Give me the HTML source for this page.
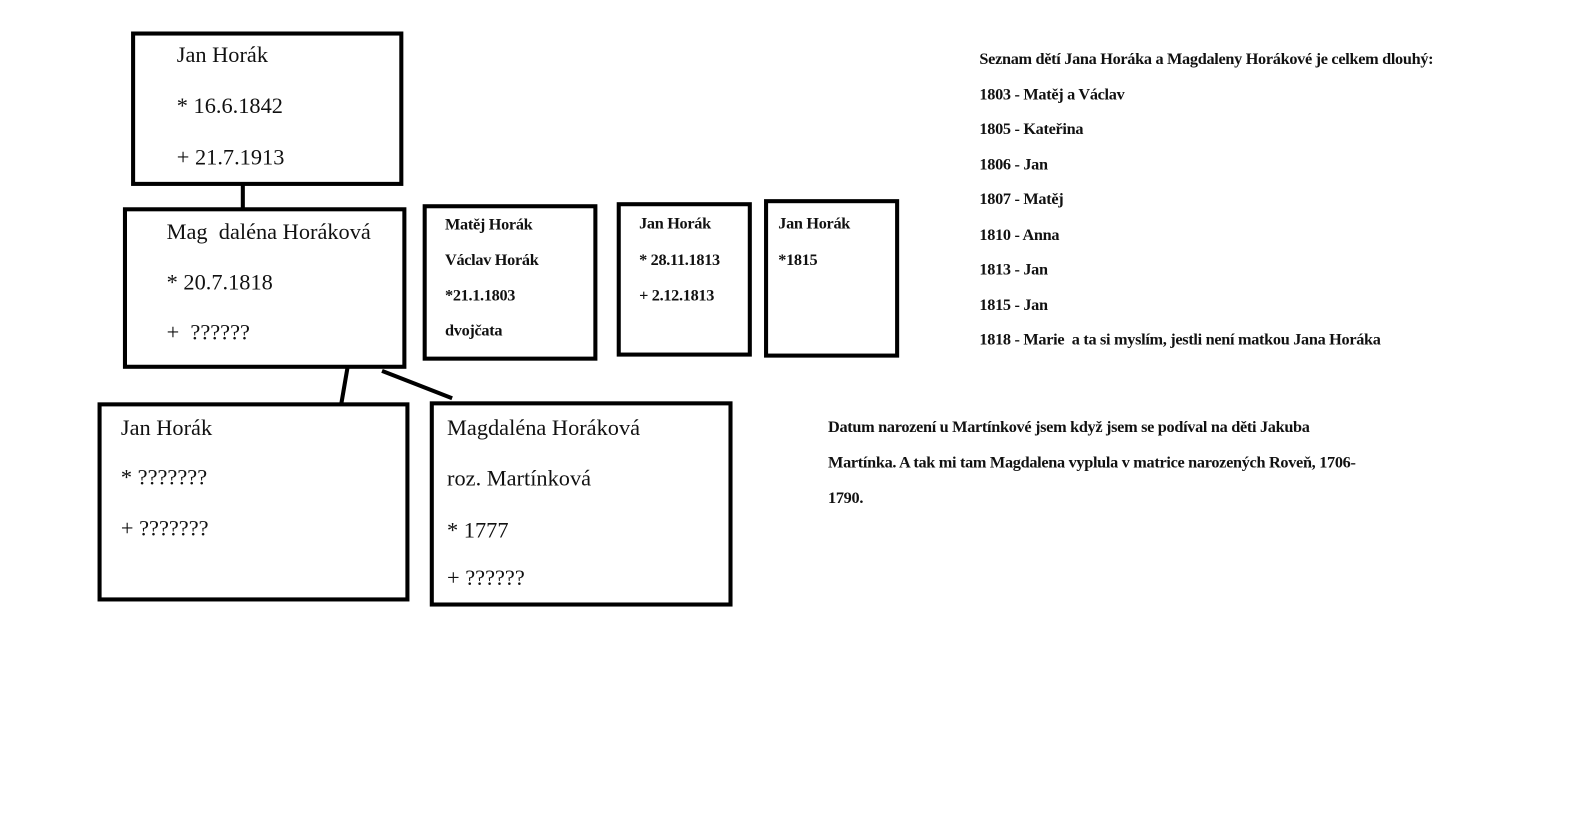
<!DOCTYPE html>
<html><head><meta charset="utf-8"><style>
body{margin:0;width:1595px;height:825px;background:#fff;position:relative;overflow:hidden;font-family:"Liberation Serif",serif;color:#111}
#w{position:absolute;left:0;top:0;width:1570px;height:812px;transform:scale(1.016);transform-origin:0 0}
.b{position:absolute;border:4px solid #000;box-sizing:border-box}
.t{position:absolute;white-space:nowrap}
.L{font-size:22px}
.S{font-size:16px;font-weight:bold;letter-spacing:-0.3px}
.R{font-size:16px;font-weight:bold;letter-spacing:-0.3px}
</style></head><body><div id="w">
<svg width="1570" height="812" style="position:absolute;left:0;top:0">
<line x1="239" y1="180" x2="239" y2="206" stroke="#000" stroke-width="4"/>
<line x1="342" y1="362" x2="336" y2="397" stroke="#000" stroke-width="4"/>
<line x1="376" y1="365" x2="445" y2="392" stroke="#000" stroke-width="4"/>
</svg>
<div class="b" style="left:129px;top:31px;width:268px;height:152px"></div>
<div class="t L" style="left:174px;top:41px">Jan Horák</div>
<div class="t L" style="left:174px;top:91px">* 16.6.1842</div>
<div class="t L" style="left:174px;top:142px">+ 21.7.1913</div>

<div class="b" style="left:121px;top:204px;width:279px;height:159px"></div>
<div class="t L" style="left:164px;top:215px">Mag&nbsp; daléna Horáková</div>
<div class="t L" style="left:164px;top:265px">* 20.7.1818</div>
<div class="t L" style="left:164px;top:314px">+&nbsp; ??????</div>

<div class="b" style="left:416px;top:201px;width:172px;height:154px"></div>
<div class="t S" style="left:438px;top:213px">Matěj Horák</div>
<div class="t S" style="left:438px;top:248px">Václav Horák</div>
<div class="t S" style="left:438px;top:283px">*21.1.1803</div>
<div class="t S" style="left:438px;top:317px">dvojčata</div>

<div class="b" style="left:607px;top:199px;width:133px;height:152px"></div>
<div class="t S" style="left:629px;top:212px">Jan Horák</div>
<div class="t S" style="left:629px;top:248px">* 28.11.1813</div>
<div class="t S" style="left:629px;top:283px">+ 2.12.1813</div>

<div class="b" style="left:752px;top:196px;width:133px;height:156px"></div>
<div class="t S" style="left:766px;top:212px">Jan Horák</div>
<div class="t S" style="left:766px;top:248px">*1815</div>

<div class="b" style="left:96px;top:396px;width:307px;height:196px"></div>
<div class="t L" style="left:119px;top:408px">Jan Horák</div>
<div class="t L" style="left:119px;top:457px">* ???????</div>
<div class="t L" style="left:119px;top:507px">+ ???????</div>

<div class="b" style="left:423px;top:395px;width:298px;height:202px"></div>
<div class="t L" style="left:440px;top:408px">Magdaléna Horáková</div>
<div class="t L" style="left:440px;top:458px">roz. Martínková</div>
<div class="t L" style="left:440px;top:509px">* 1777</div>
<div class="t L" style="left:440px;top:556px">+ ??????</div>

<div class="t R" style="left:964px;top:50px">Seznam dětí Jana Horáka a Magdaleny Horákové je celkem dlouhý:</div>
<div class="t R" style="left:964px;top:85px">1803 - Matěj a Václav</div>
<div class="t R" style="left:964px;top:119px">1805 - Kateřina</div>
<div class="t R" style="left:964px;top:154px">1806 - Jan</div>
<div class="t R" style="left:964px;top:188px">1807 - Matěj</div>
<div class="t R" style="left:964px;top:223px">1810 - Anna</div>
<div class="t R" style="left:964px;top:257px">1813 - Jan</div>
<div class="t R" style="left:964px;top:292px">1815 - Jan</div>
<div class="t R" style="left:964px;top:326px">1818 - Marie&nbsp; a ta si myslím, jestli není matkou Jana Horáka</div>

<div class="t R" style="left:815px;top:412px">Datum narození u Martínkové jsem když jsem se podíval na děti Jakuba</div>
<div class="t R" style="left:815px;top:447px">Martínka. A tak mi tam Magdalena vyplula v matrice narozených Roveň, 1706-</div>
<div class="t R" style="left:815px;top:482px">1790.</div>
</div></body></html>
